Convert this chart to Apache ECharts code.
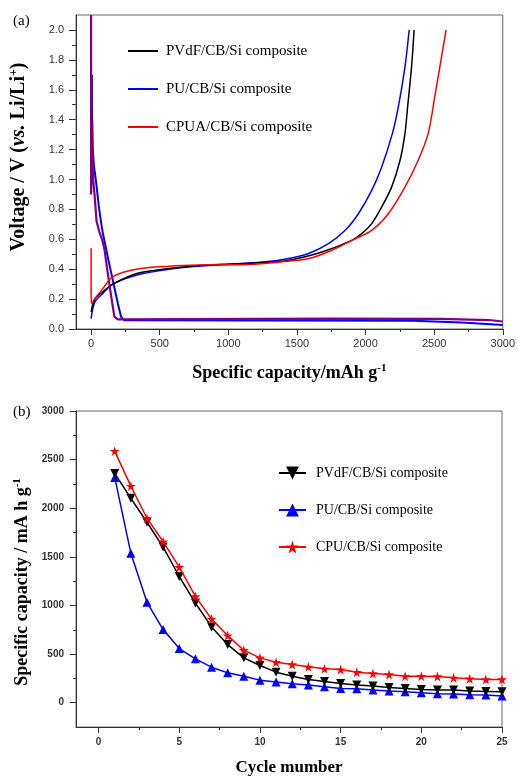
<!DOCTYPE html>
<html>
<head>
<meta charset="utf-8">
<script src="https://cdn.jsdelivr.net/npm/echarts@6/dist/echarts.min.js"></script>
<style>
html,body{margin:0;padding:0;background:#fff;}
#chart{width:518px;height:777px;}
</style>
</head>
<body>
<div id="chart"></div>
<script>
// ---- Panel (a): voltage profiles [capacity mAh/g, voltage V] ----
const pvdfCharge = [[0,0.115],[27,0.2],[86,0.25],[158,0.3],[328,0.37],[570,0.405],[787,0.425],[956,0.433],[1198,0.442],[1440,0.46],[1682,0.515],[1900,0.593],[1972,0.638],[2045,0.705],[2117,0.815],[2190,0.949],[2251,1.127],[2287,1.305],[2306,1.48],[2335,1.75],[2354,2.0]];
const puCharge = [[0,0.07],[27,0.18],[86,0.238],[158,0.3],[328,0.36],[570,0.4],[787,0.42],[956,0.43],[1271,0.449],[1440,0.471],[1585,0.505],[1730,0.571],[1852,0.66],[1948,0.771],[2045,0.927],[2117,1.082],[2195,1.305],[2238,1.48],[2287,1.75],[2318,2.0]];
const cpuaCharge = [[0,0.54],[0,0.24],[5,0.17],[25,0.2],[86,0.27],[158,0.35],[328,0.4],[570,0.42],[787,0.428],[1150,0.431],[1392,0.449],[1585,0.471],[1755,0.527],[1900,0.593],[2045,0.66],[2166,0.771],[2287,0.949],[2383,1.127],[2456,1.305],[2504,1.55],[2587,2.0]];
const dischargeA = [[0,2.1],[0,0.9],[8,1.4],[15,1.0],[25,0.9],[40,0.72],[60,0.65],[80,0.6],[98,0.53],[122,0.37],[147,0.215],[170,0.082],[195,0.065],[1750,0.07],[2550,0.068],[2900,0.06],[3000,0.05]];
const dischargeB = [[6,1.7],[6,1.55],[8,1.26],[20,1.1],[38,0.97],[57,0.815],[74,0.705],[86,0.64],[122,0.48],[158,0.327],[195,0.17],[219,0.08],[243,0.058],[2350,0.055],[2360,0.047],[2700,0.043],[2710,0.033],[3000,0.027]];

// ---- Panel (b): cycling ----
const cycles = [1,2,3,4,5,6,7,8,9,10,11,12,13,14,15,16,17,18,19,20,21,22,23,24,25];
const pvdfCycle = [2358,2102,1856,1600,1298,1025,779,598,461,382,314,273,239,218,198,181,171,157,147,136,130,130,119,116,113];
const puCycle = [2317,1538,1032,752,557,451,365,307,273,232,212,195,181,164,147,143,130,119,113,102,92,89,82,79,68];
const cpuCycle = [2587,2228,1897,1657,1394,1093,861,690,540,461,416,393,369,348,341,314,300,290,273,273,270,256,246,239,239];

// ---- tick labels ----
const capTicks = [0,500,1000,1500,2000,2500,3000];
const capMinor = [250,750,1250,1750,2250,2750];
const voltTicks = [0,0.2,0.4,0.6,0.8,1.0,1.2,1.4,1.6,1.8,2.0];
const voltMinor = [0.1,0.3,0.5,0.7,0.9,1.1,1.3,1.5,1.7,1.9];
const cycleTicks = [0,5,10,15,20,25];
const cycleMinor = [2.5,7.5,12.5,17.5,22.5];
const specTicks = [0,500,1000,1500,2000,2500,3000];
const specMinor = [250,750,1250,1750,2250,2750];

const legendA = ['PVdF/CB/Si composite','PU/CB/Si composite','CPUA/CB/Si composite'];
const legendB = ['PVdF/CB/Si composite ','PU/CB/Si composite ','CPU/CB/Si composite '];

const STAR = 'path://M50,0 L61,35 L98,35 L68,57 L79,91 L50,70 L21,91 L32,57 L2,35 L39,35 Z';
const serif = 'Liberation Serif';
const sans = 'Liberation Sans';
const axisCol = '#333';
const plain = (v) => String(v);

function majorAxis(opts){
  return Object.assign({
    type:'value', scale:false, splitLine:{show:false},
    axisLine:{show:true, onZero:false, lineStyle:{color:axisCol, width:1}},
    axisTick:{show:true, inside:false, length:6, lineStyle:{color:axisCol}},
  }, opts);
}
function minorAxis(opts){
  return Object.assign({
    type:'value', splitLine:{show:false},
    axisLine:{show:false, onZero:false},
    axisLabel:{show:false},
    axisTick:{show:true, inside:false, length:3, lineStyle:{color:axisCol}},
  }, opts);
}
const nameStyle = (size, padding) => ({
  padding: padding || 0,
  rich:{
    a:{fontFamily:serif, fontWeight:'bold', fontSize:size, color:'#000', lineHeight:size+2},
    i:{fontFamily:serif, fontWeight:'bold', fontStyle:'italic', fontSize:size, color:'#000', lineHeight:size+2},
    s:{fontFamily:serif, fontWeight:'bold', fontSize:Math.round(size*0.6), color:'#000', lineHeight:Math.round(size*0.6), verticalAlign:'top'}
  }
});

const chart = echarts.init(document.getElementById('chart'), null, {renderer:'canvas'});
chart.setOption({
  animation:false,
  backgroundColor:'#fff',
  grid:[
    {left:76, top:15, width:429, height:314, show:true, borderColor:'#666', borderWidth:1, containLabel:false},
    {left:76, top:411, width:426, height:317, show:true, borderColor:'#666', borderWidth:1, containLabel:false}
  ],
  xAxis:[
    majorAxis({gridIndex:0, position:'bottom', min:-110, max:3000,
      axisTick:{show:true, length:6, customValues:capTicks, lineStyle:{color:axisCol}},
      axisLabel:{customValues:capTicks, fontFamily:sans, fontSize:11, color:'#333', margin:9, formatter:plain},
      name:'{a|Specific capacity/mAh g}{s|-1}', nameLocation:'middle', nameGap:34, nameTextStyle:nameStyle(18)}),
    minorAxis({gridIndex:0, position:'bottom', min:-110, max:3000,
      axisTick:{show:true, length:3, customValues:capMinor, lineStyle:{color:axisCol}}}),
    majorAxis({gridIndex:1, position:'bottom', min:-1.4, max:25,
      axisTick:{show:true, length:6, customValues:cycleTicks, lineStyle:{color:axisCol}},
      axisLabel:{customValues:cycleTicks, fontFamily:sans, fontSize:10, fontWeight:'bold', color:'#333', margin:10, formatter:plain},
      name:'Cycle mumber', nameLocation:'middle', nameGap:32,
      nameTextStyle:{fontFamily:serif, fontWeight:'bold', fontSize:17, color:'#000'}}),
    minorAxis({gridIndex:1, position:'bottom', min:-1.4, max:25,
      axisTick:{show:true, length:3, customValues:cycleMinor, lineStyle:{color:axisCol}}})
  ],
  yAxis:[
    majorAxis({gridIndex:0, position:'left', min:0, max:2.1,
      axisTick:{show:true, length:7, customValues:voltTicks, lineStyle:{color:axisCol}},
      axisLabel:{customValues:voltTicks, fontFamily:sans, fontSize:11, color:'#333', margin:12,
        formatter:(v)=>v.toFixed(1)},
      name:'{a|Voltage / V (}{i|vs.}{a| Li/Li}{s|+}{a|)}', nameLocation:'middle', nameRotate:90, nameGap:46,
      nameTextStyle:nameStyle(20, [0,0,0,30])}),
    minorAxis({gridIndex:0, position:'left', min:0, max:2.1,
      axisTick:{show:true, length:4, customValues:voltMinor, lineStyle:{color:axisCol}}}),
    majorAxis({gridIndex:1, position:'left', min:-250, max:3000,
      axisTick:{show:true, length:6, customValues:specTicks, lineStyle:{color:axisCol}},
      axisLabel:{customValues:specTicks, fontFamily:sans, fontSize:10, fontWeight:'bold', color:'#333', margin:12, formatter:plain},
      name:'{a|Specific capacity / mA h g}{s|-1}', nameLocation:'middle', nameRotate:90, nameGap:43,
      nameTextStyle:nameStyle(18, [0,26,0,0])}),
    minorAxis({gridIndex:1, position:'left', min:-250, max:3000,
      axisTick:{show:true, length:3, customValues:specMinor, lineStyle:{color:axisCol}}})
  ],
  legend:[
    {data:legendA, orient:'vertical', left:122, top:38, itemWidth:30, itemHeight:16, itemGap:22,
      itemStyle:{opacity:0},
      textStyle:{fontFamily:serif, fontSize:15, color:'#000', lineHeight:16, padding:[0,0,0,3]}},
    {data:legendB, orient:'vertical', left:273, top:460, itemWidth:27, itemHeight:16, itemGap:21,
      textStyle:{fontFamily:serif, fontSize:14, color:'#000', lineHeight:16, padding:[0,0,0,5]}}
  ],
  graphic:[
    {type:'text', left:13, top:14, style:{text:'(a)', font:'15px "Liberation Serif"', fill:'#000'}},
    {type:'text', left:13, top:405, style:{text:'(b)', font:'15px "Liberation Serif"', fill:'#000'}}
  ],
  series:[
    {name:legendA[0], type:'line', xAxisIndex:0, yAxisIndex:0, data:pvdfCharge, symbol:'none', smooth:0.3,
      lineStyle:{color:'#000', width:1.5}, itemStyle:{color:'#000'}, clip:true, z:3},
    {name:legendA[1], type:'line', xAxisIndex:0, yAxisIndex:0, data:puCharge, symbol:'none', smooth:0.3,
      lineStyle:{color:'#0000ff', width:1.5}, itemStyle:{color:'#0000ff'}, clip:true, z:2},
    {name:legendA[2], type:'line', xAxisIndex:0, yAxisIndex:0, data:cpuaCharge, symbol:'none', smooth:0.3,
      lineStyle:{color:'#ff0000', width:1.5}, itemStyle:{color:'#ff0000'}, clip:true, z:4},
    {name:'PU discharge', type:'line', xAxisIndex:0, yAxisIndex:0, data:dischargeB, symbol:'none',
      lineStyle:{color:'#0000ff', width:2}, itemStyle:{color:'#0000ff'}, clip:true, z:2},
    {name:'discharge', type:'line', xAxisIndex:0, yAxisIndex:0, data:dischargeA, symbol:'none',
      lineStyle:{color:'#800080', width:2.2}, itemStyle:{color:'#800080'}, clip:true, z:3},

    {name:legendB[0], type:'line', xAxisIndex:2, yAxisIndex:2, data:cycles.map((c,i)=>[c,pvdfCycle[i]]),
      symbol:'triangle', symbolRotate:180, symbolSize:9, showSymbol:true,
      lineStyle:{color:'#000', width:1.5}, itemStyle:{color:'#000'}, z:3},
    {name:legendB[1], type:'line', xAxisIndex:2, yAxisIndex:2, data:cycles.map((c,i)=>[c,puCycle[i]]),
      symbol:'triangle', symbolSize:9, showSymbol:true,
      lineStyle:{color:'#0000ff', width:1.5}, itemStyle:{color:'#0000ff'}, z:2},
    {name:legendB[2], type:'line', xAxisIndex:2, yAxisIndex:2, data:cycles.map((c,i)=>[c,cpuCycle[i]]),
      symbol:STAR, symbolSize:10, showSymbol:true,
      lineStyle:{color:'#ff0000', width:1.5}, itemStyle:{color:'#ff0000'}, z:4}
  ]
});
</script>
</body>
</html>
